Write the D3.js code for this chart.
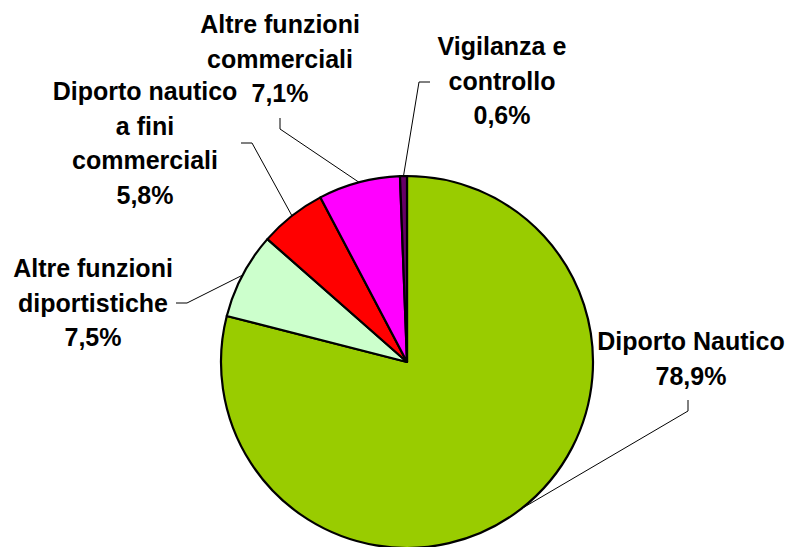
<!DOCTYPE html>
<html>
<head>
<meta charset="utf-8">
<script src="https://cdn.jsdelivr.net/npm/d3@7/dist/d3.min.js"></script>
<style>
  html, body { margin: 0; padding: 0; background: #fff; }
  svg { display: block; }
</style>
</head>
<body>
<svg id="chart" width="787" height="547"></svg>
<script>
// ---- data ----
const categories = [
  "Diporto Nautico",
  "Altre funzioni diportistiche",
  "Diporto nautico a fini commerciali",
  "Altre funzioni commerciali",
  "Vigilanza e controllo"
];
const values = [78.9, 7.5, 5.8, 7.1, 0.6];
const valueLabels = ["78,9%", "7,5%", "5,8%", "7,1%", "0,6%"];
const labelLines = [
  ["Diporto Nautico"],
  ["Altre funzioni", "diportistiche"],
  ["Diporto nautico", "a fini", "commerciali"],
  ["Altre funzioni", "commerciali"],
  ["Vigilanza e", "controllo"]
];
const colors = ["#99CC00", "#CCFFCC", "#FF0000", "#FF00FF", "#660066"];

// ---- layout ----
const cx = 407, cy = 362, R = 186;
const fontSize = 25, lineH = 34.5;
// label anchor (center x, first baseline y) and leader elbow/end points
const layout = [
  { x: 691, y: 350, elbow: [688, 411], end: [688, 400] },
  { x: 93,  y: 277, elbow: [187, 303], end: [176, 303] },
  { x: 145, y: 100, elbow: [252, 143], end: [241, 143] },
  { x: 280, y: 33,  elbow: [280, 129], end: [280, 118] },
  { x: 502, y: 55,  elbow: [419, 82],  end: [430, 82] }
];

const svg = d3.select("#chart");
const g = svg.append("g").attr("transform", `translate(${cx},${cy})`);

const pie = d3.pie().sort(null).value(d => d).startAngle(0).endAngle(2 * Math.PI);
const arcs = pie(values);
const arc = d3.arc().innerRadius(0).outerRadius(R);

g.selectAll("path.slice")
  .data(arcs)
  .enter().append("path")
  .attr("class", "slice")
  .attr("d", arc)
  .attr("fill", (d, i) => colors[i])
  .attr("stroke", "#000")
  .attr("stroke-width", 2.2)
  .attr("stroke-linejoin", "round");

// leader lines
arcs.forEach((d, i) => {
  const a = (d.startAngle + d.endAngle) / 2;
  const sx = cx + R * Math.sin(a), sy = cy - R * Math.cos(a);
  const L = layout[i];
  svg.append("polyline")
    .attr("points", [[sx, sy], L.elbow, L.end].map(p => p.join(",")).join(" "))
    .attr("fill", "none")
    .attr("stroke", "#000")
    .attr("stroke-width", 1);
});

// labels
labelLines.forEach((lines, i) => {
  const L = layout[i];
  const t = svg.append("text")
    .attr("text-anchor", "middle")
    .attr("font-family", "'Liberation Sans', Arial, Helvetica, sans-serif")
    .attr("font-weight", "bold")
    .attr("font-size", fontSize)
    .attr("fill", "#000");
  lines.concat([valueLabels[i]]).forEach((s, k) => {
    t.append("tspan").attr("x", L.x).attr("y", L.y + k * lineH).text(s);
  });
});
</script>
</body>
</html>
